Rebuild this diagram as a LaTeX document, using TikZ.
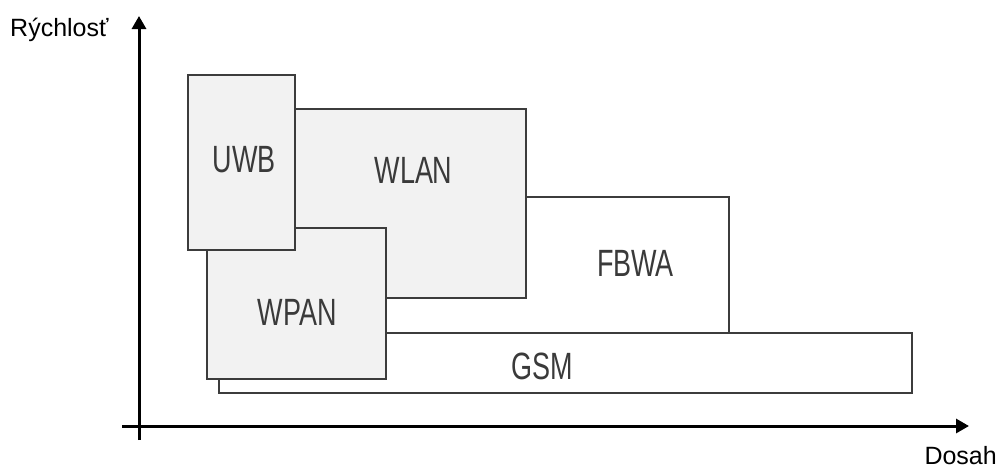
\documentclass[tikz,border=0pt]{standalone}
\usepackage{fontspec}
\setmainfont{Liberation Sans}
\newfontfamily\boxfont[FakeStretch=0.71]{Liberation Sans}
\usetikzlibrary{arrows.meta}
\definecolor{edge}{HTML}{3C3C3C}
\definecolor{shade}{HTML}{F2F2F2}
\definecolor{labtext}{HTML}{3A3A3A}
\begin{document}
\begin{tikzpicture}[x=1pt,y=-1pt,
  band/.style={draw=edge, line width=2.5pt, fill=#1, inner sep=0pt, outer sep=0pt},
  band/.default=white,
  tag/.style={font=\boxfont\fontsize{38}{38}\selectfont, text=labtext, inner sep=0pt},
  axislabel/.style={font=\fontsize{25}{25}\selectfont, text=black, inner sep=0pt},
  axis/.style={line width=3pt, -{Triangle[length=13pt,width=14pt]}}]
\useasboundingbox (0,0) rectangle (1000,469);
% boxes, back to front
\node[band, minimum width=693pt, minimum height=60pt] (gsm) at (565.5,363) {};
\node[band, minimum width=389pt, minimum height=136pt] (fbwa) at (534.5,265) {};
\node[band=shade, minimum width=231pt, minimum height=189pt] (wlan) at (410.5,203.5) {};
\node[band=shade, minimum width=179pt, minimum height=151pt] (wpan) at (296.5,303.5) {};
\node[band=shade, minimum width=107pt, minimum height=175pt] (uwb) at (241.5,162.5) {};
% labels
\node[tag] (tuwb) at (244,159.5) {UWB};
\node[tag] (twlan) at (413.5,170.5) {WLAN};
\node[tag] (tfbwa) at (635.5,263) {FBWA};
\node[tag] (twpan) at (297,312.5) {WPAN};
\node[tag] (tgsm) at (542,366.5) {GSM};
% axes
\coordinate (yb) at (139,440);
\coordinate (yt) at (139,16);
\coordinate (xl) at (122,426);
\coordinate (xr) at (969,426);
\draw[axis] (yb) -- (yt);
\draw[axis] (xl) -- (xr);
\node[axislabel, anchor=west] (ylab) at (10,30) {Rýchlosť};
\node[axislabel, anchor=east] (xlab) at (997,456) {Dosah};
\end{tikzpicture}
\end{document}
